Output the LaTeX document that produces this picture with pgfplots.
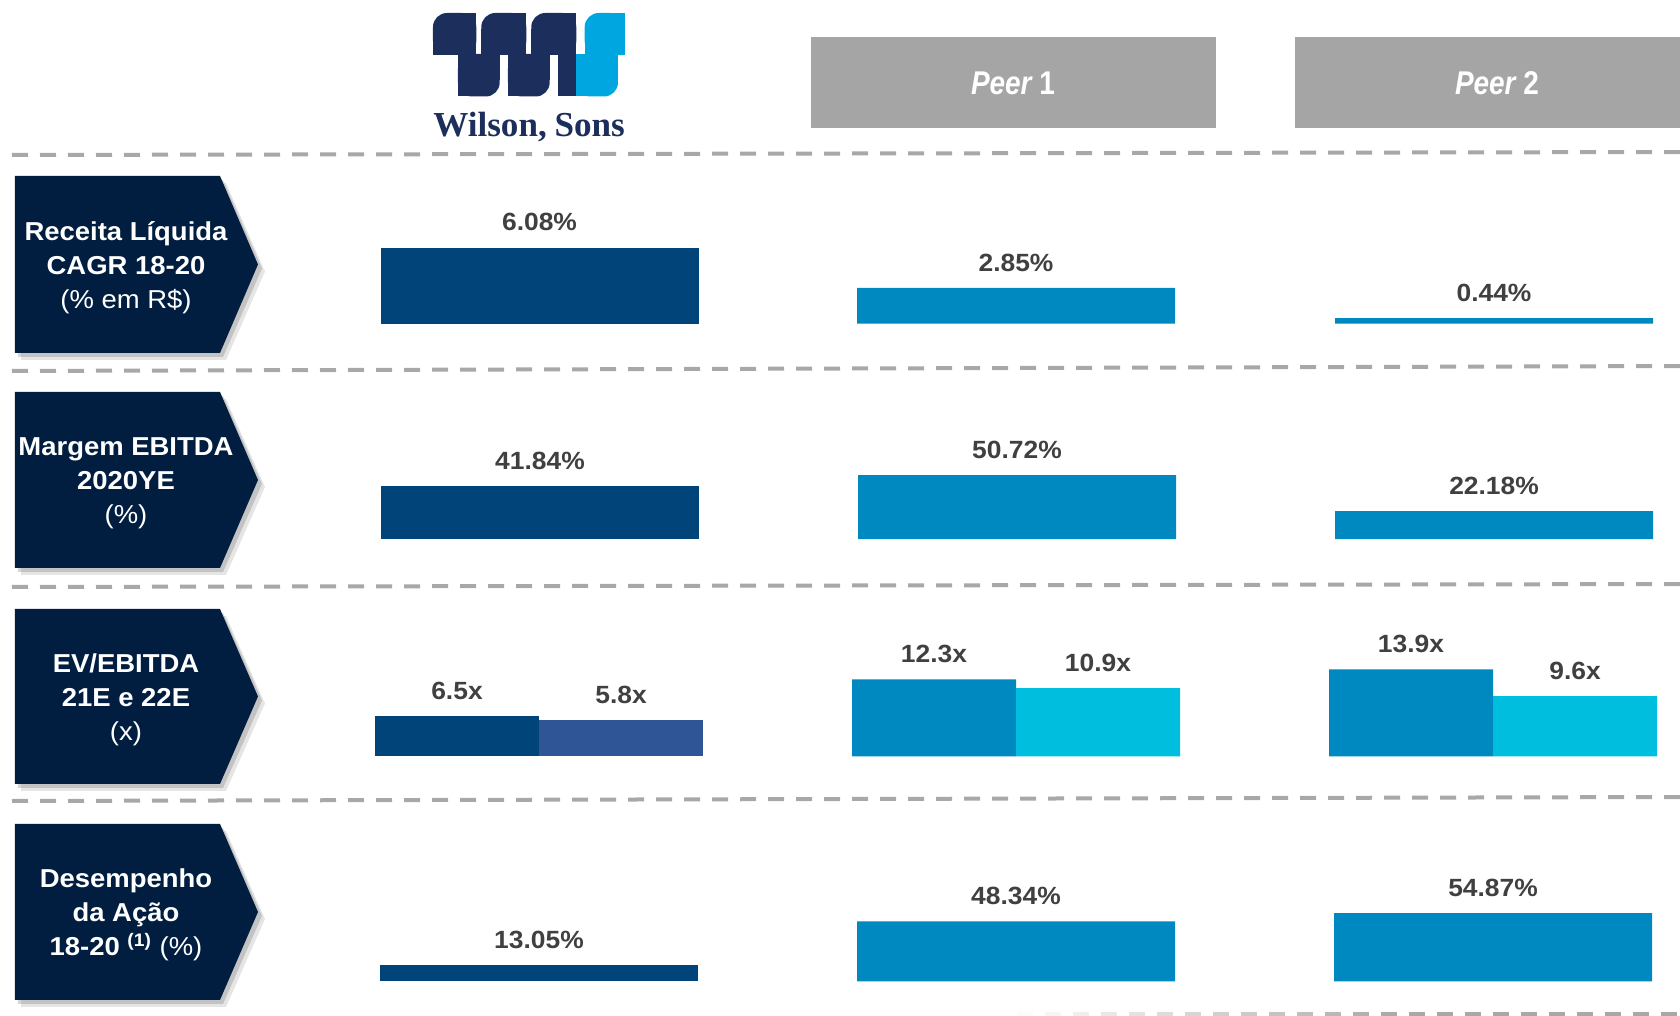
\documentclass[border=0pt]{standalone}
\usepackage{pgfplots}
\pgfplotsset{compat=1.18}
\usepackage{fontspec}
\setmainfont{Liberation Sans}
\newfontfamily\logofont{Liberation Serif}
\definecolor{wsblue}{HTML}{004479}
\definecolor{wsblue2}{HTML}{2F5597}
\definecolor{peerblue}{HTML}{0088C0}
\definecolor{peercyan}{HTML}{00BEDE}
\definecolor{navy}{HTML}{011E41}
\definecolor{logonavy}{HTML}{1C2E5B}
\definecolor{logocyan}{HTML}{00A6DF}
\definecolor{peergray}{HTML}{A5A5A5}
\definecolor{dashgray}{HTML}{A8A8A8}
\definecolor{valgray}{HTML}{404040}

\pgfplotsset{rowaxis/.style={scale only axis, width=840bp, xmin=0, xmax=1680, ymin=0,
  hide axis, clip=false, anchor=south west,
  point meta=explicit symbolic, nodes near coords,
  every node near coord/.append style={font=\fontsize{12.5}{14}\selectfont\bfseries,
     text=valgray, anchor=south, inner sep=0pt, yshift=8bp, xscale=1.06}}}

\newcommand\logotop[3]{%
  \fill[#1,rounded corners=7bp] (#2,13) rectangle (#3,55);
  \fill[#1] ({#2+16},13) rectangle (#3,55);
  \fill[#1] (#2,29) rectangle (#3,55);}
\newcommand\logobot[3]{%
  \fill[#1,rounded corners=7bp] (#2,54) rectangle (#3,96.5);
  \fill[#1] (#2,54) rectangle ({#3-16},96.5);
  \fill[#1] (#2,54) rectangle (#3,80);}
\newcommand\rowbox[4]{% top, bottom, mid, text
  \fill[black, opacity=.10] (21,#1+7) -- (226,#1+7) -- (265,#3+7) -- (226,#2+7) -- (21,#2+7) -- cycle;
  \fill[black, opacity=.15] (18,#1+4) -- (223,#1+4) -- (262,#3+4) -- (223,#2+4) -- (18,#2+4) -- cycle;
  \fill[navy] (15,#1) -- (220,#1) -- (258,#3) -- (220,#2) -- (15,#2) -- cycle;
  \node[text=white, align=center, font=\fontsize{13}{17}\selectfont\bfseries, xscale=1.06] at (126,#3+3) {#4};}

\begin{document}
\begin{tikzpicture}
\useasboundingbox (0,0) rectangle (840bp,-508bp);
\begin{scope}[x=0.5bp,y=-0.5bp]
  % dashed separators
  \foreach \ya/\yb in {155/152, 371/366, 587/584, 801/797}{
    \draw[dashgray, line width=2bp, dash pattern=on 8bp off 6bp] (12,\ya) -- (1690,\yb);}
  \foreach \i in {0,...,24}{
    \pgfmathtruncatemacro\c{min(100,5+\i*7)}
    \draw[dashgray!\c!white, line width=2bp] ({1017+28*\i},1014) -- ({1033+28*\i},1014);}
  % logo
  \logotop{logonavy}{433}{476.3}
  \logobot{logonavy}{458}{499.7}
  \logotop{logonavy}{481.3}{526.3}
  \logobot{logonavy}{508}{549.7}
  \logotop{logonavy}{531.3}{576.3}
  \fill[logonavy] (558,54) rectangle (576.3,96.5);
  \logotop{logocyan}{584.7}{624.7}
  \logobot{logocyan}{576.3}{618}
  \node[anchor=base west, inner sep=0pt, text=logonavy, font=\logofont\bfseries\fontsize{17.6}{20}\selectfont] at (433,137) {Wilson,\kern-0.5pt\ Sons};
  % peer headers
  \fill[peergray] (811,37) rectangle (1216,128);
  \fill[peergray] (1295,37) rectangle (1700,128);
  \node[text=white, font=\fontsize{16.5}{20}\selectfont\bfseries, xscale=0.85] at (1013,83) {\itshape Peer\upshape{} 1};
  \node[text=white, font=\fontsize{16.5}{20}\selectfont\bfseries, xscale=0.85] at (1497,83) {\itshape Peer\upshape{} 2};
  % row labels
  \rowbox{176}{353}{264.5}{Receita Líquida\\CAGR 18-20\\{\mdseries(\% em R\$)}}
  \rowbox{392}{568}{480}{Margem EBITDA\\2020YE\\{\mdseries(\%)}}
  \rowbox{609}{784}{696.5}{EV/EBITDA\\21E e 22E\\{\mdseries(x)}}
  \rowbox{824}{1000}{912}{Desempenho\\da Ação\\18-20 \textsuperscript{(1)} {\mdseries(\%)}}
\end{scope}

% Row 1: Receita Liquida CAGR
\begin{axis}[rowaxis, at={(0bp,-161.8bp)}, height=62.55bp, ymax=10]
\addplot[ybar, bar width=318, bar shift=0pt, fill=wsblue, draw=none] coordinates {(539.5,6.08) [6.08\%]};
\addplot[ybar, bar width=318, bar shift=0pt, fill=peerblue, draw=none] coordinates {(1016,2.85) [2.85\%] (1494,0.44) [0.44\%]};
\end{axis}

% Row 2: Margem EBITDA
\begin{axis}[rowaxis, at={(0bp,-269.5bp)}, height=37.83bp, ymax=60]
\addplot[ybar, bar width=318, bar shift=0pt, fill=wsblue, draw=none] coordinates {(540,41.84) [41.84\%]};
\addplot[ybar, bar width=318, bar shift=0pt, fill=peerblue, draw=none] coordinates {(1017,50.72) [50.72\%] (1494,22.18) [22.18\%]};
\end{axis}

% Row 3: EV/EBITDA
\begin{axis}[rowaxis, at={(0bp,-378.2bp)}, height=47.0bp, ymax=15]
\addplot[ybar, bar width=164, bar shift=0pt, fill=wsblue, draw=none] coordinates {(457,6.5) [6.5x]};
\addplot[ybar, bar width=164, bar shift=0pt, fill=wsblue2, draw=none] coordinates {(621,5.8) [5.8x]};
\addplot[ybar, bar width=164, bar shift=0pt, fill=peerblue, draw=none] coordinates {(934,12.3) [12.3x] (1411,13.9) [13.9x]};
\addplot[ybar, bar width=164, bar shift=0pt, fill=peercyan, draw=none] coordinates {(1098,10.9) [10.9x] (1575,9.6) [9.6x]};
\end{axis}

% Row 4: Desempenho da Acao
\begin{axis}[rowaxis, at={(0bp,-490.7bp)}, height=37.3bp, ymax=60]
\addplot[ybar, bar width=318, bar shift=0pt, fill=wsblue, draw=none] coordinates {(539,13.05) [13.05\%]};
\addplot[ybar, bar width=318, bar shift=0pt, fill=peerblue, draw=none] coordinates {(1016,48.34) [48.34\%] (1493,54.87) [54.87\%]};
\end{axis}
\end{tikzpicture}
\end{document}
